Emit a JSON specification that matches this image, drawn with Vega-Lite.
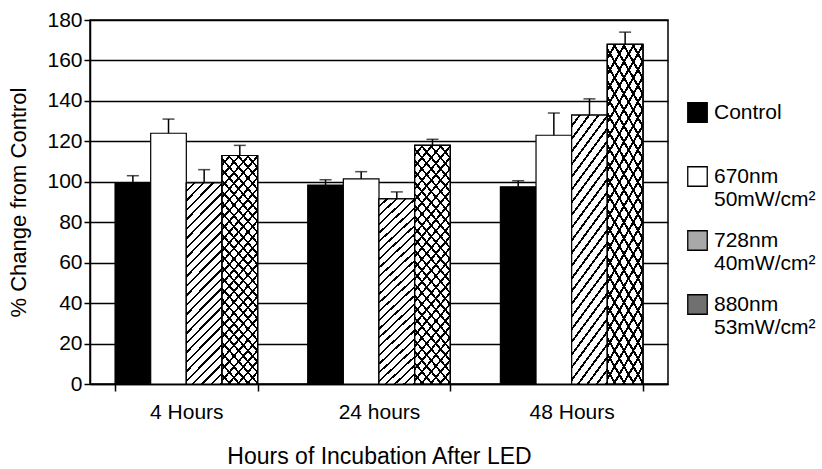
{
  "$schema": "https://vega.github.io/schema/vega-lite/v6.json",
  "width": 578,
  "height": 364,
  "autosize": "none",
  "padding": {"left": 90, "top": 20, "right": 154, "bottom": 85},
  "background": "white",
  "config": {"font": "Liberation Sans", "view": {"stroke": "black", "strokeWidth": 1.5}},
  "data": {"values": [
    {"hour": "4 Hours", "group": "Control", "value": 99.5, "upper": 103},
    {"hour": "4 Hours", "group": "670nm 50mW/cm²", "value": 124, "upper": 131},
    {"hour": "4 Hours", "group": "728nm 40mW/cm²", "value": 99.5, "upper": 106},
    {"hour": "4 Hours", "group": "880nm 53mW/cm²", "value": 113, "upper": 118},
    {"hour": "24 hours", "group": "Control", "value": 98.4, "upper": 101},
    {"hour": "24 hours", "group": "670nm 50mW/cm²", "value": 101.4, "upper": 105},
    {"hour": "24 hours", "group": "728nm 40mW/cm²", "value": 91.5, "upper": 95},
    {"hour": "24 hours", "group": "880nm 53mW/cm²", "value": 118, "upper": 121},
    {"hour": "48 Hours", "group": "Control", "value": 97.5, "upper": 100.5},
    {"hour": "48 Hours", "group": "670nm 50mW/cm²", "value": 123, "upper": 134},
    {"hour": "48 Hours", "group": "728nm 40mW/cm²", "value": 133, "upper": 141},
    {"hour": "48 Hours", "group": "880nm 53mW/cm²", "value": 168, "upper": 174}
  ]},
  "encoding": {
    "x": {
      "field": "hour", "type": "nominal", "sort": ["4 Hours", "24 hours", "48 Hours"],
      "scale": {"paddingInner": 0.26, "paddingOuter": 0.13},
      "axis": {
        "title": "Hours of Incubation After LED", "labelAngle": 0, "tickBand": "extent",
        "tickSize": 7, "labelFontSize": 21, "titleFontSize": 23, "titleFontWeight": "normal",
        "labelPadding": 10, "titlePadding": 23, "domainColor": "black", "domainWidth": 1.5,
        "tickColor": "black", "tickWidth": 1.5, "labelColor": "black", "titleColor": "black"
      }
    },
    "xOffset": {
      "field": "group", "type": "nominal",
      "scale": {"domain": ["Control", "670nm 50mW/cm²", "728nm 40mW/cm²", "880nm 53mW/cm²"], "paddingInner": 0, "paddingOuter": 0}
    },
    "y": {
      "field": "value", "type": "quantitative", "scale": {"domain": [0, 180], "nice": false},
      "axis": {
        "title": "% Change from Control", "values": [0, 20, 40, 60, 80, 100, 120, 140, 160, 180],
        "grid": true, "gridColor": "black", "gridOpacity": 1, "gridWidth": 1.3,
        "domainColor": "black", "domainWidth": 1.5, "tickColor": "black", "tickWidth": 1.5, "tickSize": 6,
        "labelColor": "black", "labelFontSize": 21, "labelPadding": 2,
        "titleColor": "black", "titleFontSize": 22, "titleFontWeight": "normal", "titlePadding": 16
      }
    }
  },
  "layer": [
    {
      "mark": {"type": "bar", "stroke": "black", "strokeWidth": 1.2},
      "encoding": {
        "fill": {
          "field": "group", "type": "nominal",
          "scale": {
            "domain": ["Control", "670nm 50mW/cm²", "728nm 40mW/cm²", "880nm 53mW/cm²"],
            "range": ["#000000", "#ffffff", "#a8a8a8", "#707070"]
          },
          "legend": {
            "orient": "none", "legendX": 597, "legendY": 82, "title": null,
            "symbolType": "square", "symbolSize": 380, "symbolStrokeColor": "black", "symbolStrokeWidth": 1.3,
            "labelFontSize": 21, "labelColor": "black", "labelLimit": 200, "labelOffset": 6,
            "labelExpr": "split(datum.label, ' ')", "rowPadding": 18, "gridAlign": "all"
          }
        }
      }
    },
    {
      "transform": [{"filter": "datum.group == '728nm 40mW/cm²' || datum.group == '880nm 53mW/cm²'"}],
      "mark": {"type": "bar", "stroke": "black", "strokeWidth": 1.2,
        "fill": {"gradient": "linear", "x1": 0, "y1": 0, "x2": 0.206, "y2": 1.143, "stops": [
          {"offset":0,"color":"#fff"},{"offset":0.03,"color":"#fff"},{"offset":0.03,"color":"#000"},{"offset":0.04,"color":"#000"},
          {"offset":0.04,"color":"#fff"},{"offset":0.07,"color":"#fff"},{"offset":0.07,"color":"#000"},{"offset":0.08,"color":"#000"},
          {"offset":0.08,"color":"#fff"},{"offset":0.11,"color":"#fff"},{"offset":0.11,"color":"#000"},{"offset":0.12,"color":"#000"},
          {"offset":0.12,"color":"#fff"},{"offset":0.15,"color":"#fff"},{"offset":0.15,"color":"#000"},{"offset":0.16,"color":"#000"},
          {"offset":0.16,"color":"#fff"},{"offset":0.19,"color":"#fff"},{"offset":0.19,"color":"#000"},{"offset":0.20,"color":"#000"},
          {"offset":0.20,"color":"#fff"},{"offset":0.23,"color":"#fff"},{"offset":0.23,"color":"#000"},{"offset":0.24,"color":"#000"},
          {"offset":0.24,"color":"#fff"},{"offset":0.27,"color":"#fff"},{"offset":0.27,"color":"#000"},{"offset":0.28,"color":"#000"},
          {"offset":0.28,"color":"#fff"},{"offset":0.31,"color":"#fff"},{"offset":0.31,"color":"#000"},{"offset":0.32,"color":"#000"},
          {"offset":0.32,"color":"#fff"},{"offset":0.35,"color":"#fff"},{"offset":0.35,"color":"#000"},{"offset":0.36,"color":"#000"},
          {"offset":0.36,"color":"#fff"},{"offset":0.39,"color":"#fff"},{"offset":0.39,"color":"#000"},{"offset":0.40,"color":"#000"},
          {"offset":0.40,"color":"#fff"},{"offset":0.43,"color":"#fff"},{"offset":0.43,"color":"#000"},{"offset":0.44,"color":"#000"},
          {"offset":0.44,"color":"#fff"},{"offset":0.47,"color":"#fff"},{"offset":0.47,"color":"#000"},{"offset":0.48,"color":"#000"},
          {"offset":0.48,"color":"#fff"},{"offset":0.51,"color":"#fff"},{"offset":0.51,"color":"#000"},{"offset":0.52,"color":"#000"},
          {"offset":0.52,"color":"#fff"},{"offset":0.55,"color":"#fff"},{"offset":0.55,"color":"#000"},{"offset":0.56,"color":"#000"},
          {"offset":0.56,"color":"#fff"},{"offset":0.59,"color":"#fff"},{"offset":0.59,"color":"#000"},{"offset":0.60,"color":"#000"},
          {"offset":0.60,"color":"#fff"},{"offset":0.63,"color":"#fff"},{"offset":0.63,"color":"#000"},{"offset":0.64,"color":"#000"},
          {"offset":0.64,"color":"#fff"},{"offset":0.67,"color":"#fff"},{"offset":0.67,"color":"#000"},{"offset":0.68,"color":"#000"},
          {"offset":0.68,"color":"#fff"},{"offset":0.71,"color":"#fff"},{"offset":0.71,"color":"#000"},{"offset":0.72,"color":"#000"},
          {"offset":0.72,"color":"#fff"},{"offset":0.75,"color":"#fff"},{"offset":0.75,"color":"#000"},{"offset":0.76,"color":"#000"},
          {"offset":0.76,"color":"#fff"},{"offset":0.79,"color":"#fff"},{"offset":0.79,"color":"#000"},{"offset":0.80,"color":"#000"},
          {"offset":0.80,"color":"#fff"},{"offset":0.83,"color":"#fff"},{"offset":0.83,"color":"#000"},{"offset":0.84,"color":"#000"},
          {"offset":0.84,"color":"#fff"},{"offset":0.87,"color":"#fff"},{"offset":0.87,"color":"#000"},{"offset":0.88,"color":"#000"},
          {"offset":0.88,"color":"#fff"},{"offset":0.91,"color":"#fff"},{"offset":0.91,"color":"#000"},{"offset":0.92,"color":"#000"},
          {"offset":0.92,"color":"#fff"},{"offset":0.95,"color":"#fff"},{"offset":0.95,"color":"#000"},{"offset":0.96,"color":"#000"},
          {"offset":0.96,"color":"#fff"},{"offset":0.99,"color":"#fff"},{"offset":0.99,"color":"#000"},{"offset":1,"color":"#000"}
        ]}
      }
    },
    {
      "transform": [{"filter": "datum.group == '880nm 53mW/cm²'"}],
      "mark": {"type": "bar", "stroke": "black", "strokeWidth": 1.2,
        "fill": {"gradient": "linear", "x1": 0, "y1": 1, "x2": 0.206, "y2": -0.143, "stops": [
          {"offset":0,"color":"rgba(255,255,255,0)"},{"offset":0.03,"color":"rgba(255,255,255,0)"},{"offset":0.03,"color":"#000"},{"offset":0.04,"color":"#000"},
          {"offset":0.04,"color":"rgba(255,255,255,0)"},{"offset":0.07,"color":"rgba(255,255,255,0)"},{"offset":0.07,"color":"#000"},{"offset":0.08,"color":"#000"},
          {"offset":0.08,"color":"rgba(255,255,255,0)"},{"offset":0.11,"color":"rgba(255,255,255,0)"},{"offset":0.11,"color":"#000"},{"offset":0.12,"color":"#000"},
          {"offset":0.12,"color":"rgba(255,255,255,0)"},{"offset":0.15,"color":"rgba(255,255,255,0)"},{"offset":0.15,"color":"#000"},{"offset":0.16,"color":"#000"},
          {"offset":0.16,"color":"rgba(255,255,255,0)"},{"offset":0.19,"color":"rgba(255,255,255,0)"},{"offset":0.19,"color":"#000"},{"offset":0.20,"color":"#000"},
          {"offset":0.20,"color":"rgba(255,255,255,0)"},{"offset":0.23,"color":"rgba(255,255,255,0)"},{"offset":0.23,"color":"#000"},{"offset":0.24,"color":"#000"},
          {"offset":0.24,"color":"rgba(255,255,255,0)"},{"offset":0.27,"color":"rgba(255,255,255,0)"},{"offset":0.27,"color":"#000"},{"offset":0.28,"color":"#000"},
          {"offset":0.28,"color":"rgba(255,255,255,0)"},{"offset":0.31,"color":"rgba(255,255,255,0)"},{"offset":0.31,"color":"#000"},{"offset":0.32,"color":"#000"},
          {"offset":0.32,"color":"rgba(255,255,255,0)"},{"offset":0.35,"color":"rgba(255,255,255,0)"},{"offset":0.35,"color":"#000"},{"offset":0.36,"color":"#000"},
          {"offset":0.36,"color":"rgba(255,255,255,0)"},{"offset":0.39,"color":"rgba(255,255,255,0)"},{"offset":0.39,"color":"#000"},{"offset":0.40,"color":"#000"},
          {"offset":0.40,"color":"rgba(255,255,255,0)"},{"offset":0.43,"color":"rgba(255,255,255,0)"},{"offset":0.43,"color":"#000"},{"offset":0.44,"color":"#000"},
          {"offset":0.44,"color":"rgba(255,255,255,0)"},{"offset":0.47,"color":"rgba(255,255,255,0)"},{"offset":0.47,"color":"#000"},{"offset":0.48,"color":"#000"},
          {"offset":0.48,"color":"rgba(255,255,255,0)"},{"offset":0.51,"color":"rgba(255,255,255,0)"},{"offset":0.51,"color":"#000"},{"offset":0.52,"color":"#000"},
          {"offset":0.52,"color":"rgba(255,255,255,0)"},{"offset":0.55,"color":"rgba(255,255,255,0)"},{"offset":0.55,"color":"#000"},{"offset":0.56,"color":"#000"},
          {"offset":0.56,"color":"rgba(255,255,255,0)"},{"offset":0.59,"color":"rgba(255,255,255,0)"},{"offset":0.59,"color":"#000"},{"offset":0.60,"color":"#000"},
          {"offset":0.60,"color":"rgba(255,255,255,0)"},{"offset":0.63,"color":"rgba(255,255,255,0)"},{"offset":0.63,"color":"#000"},{"offset":0.64,"color":"#000"},
          {"offset":0.64,"color":"rgba(255,255,255,0)"},{"offset":0.67,"color":"rgba(255,255,255,0)"},{"offset":0.67,"color":"#000"},{"offset":0.68,"color":"#000"},
          {"offset":0.68,"color":"rgba(255,255,255,0)"},{"offset":0.71,"color":"rgba(255,255,255,0)"},{"offset":0.71,"color":"#000"},{"offset":0.72,"color":"#000"},
          {"offset":0.72,"color":"rgba(255,255,255,0)"},{"offset":0.75,"color":"rgba(255,255,255,0)"},{"offset":0.75,"color":"#000"},{"offset":0.76,"color":"#000"},
          {"offset":0.76,"color":"rgba(255,255,255,0)"},{"offset":0.79,"color":"rgba(255,255,255,0)"},{"offset":0.79,"color":"#000"},{"offset":0.80,"color":"#000"},
          {"offset":0.80,"color":"rgba(255,255,255,0)"},{"offset":0.83,"color":"rgba(255,255,255,0)"},{"offset":0.83,"color":"#000"},{"offset":0.84,"color":"#000"},
          {"offset":0.84,"color":"rgba(255,255,255,0)"},{"offset":0.87,"color":"rgba(255,255,255,0)"},{"offset":0.87,"color":"#000"},{"offset":0.88,"color":"#000"},
          {"offset":0.88,"color":"rgba(255,255,255,0)"},{"offset":0.91,"color":"rgba(255,255,255,0)"},{"offset":0.91,"color":"#000"},{"offset":0.92,"color":"#000"},
          {"offset":0.92,"color":"rgba(255,255,255,0)"},{"offset":0.95,"color":"rgba(255,255,255,0)"},{"offset":0.95,"color":"#000"},{"offset":0.96,"color":"#000"},
          {"offset":0.96,"color":"rgba(255,255,255,0)"},{"offset":0.99,"color":"rgba(255,255,255,0)"},{"offset":0.99,"color":"#000"},{"offset":1,"color":"#000"}
        ]}
      }
    },
    {
      "mark": {"type": "rule", "color": "black", "strokeWidth": 1.5},
      "encoding": {"y2": {"field": "upper"}}
    },
    {
      "mark": {"type": "tick", "color": "black", "size": 12, "thickness": 1.5},
      "encoding": {"y": {"field": "upper", "type": "quantitative"}}
    }
  ]
}
